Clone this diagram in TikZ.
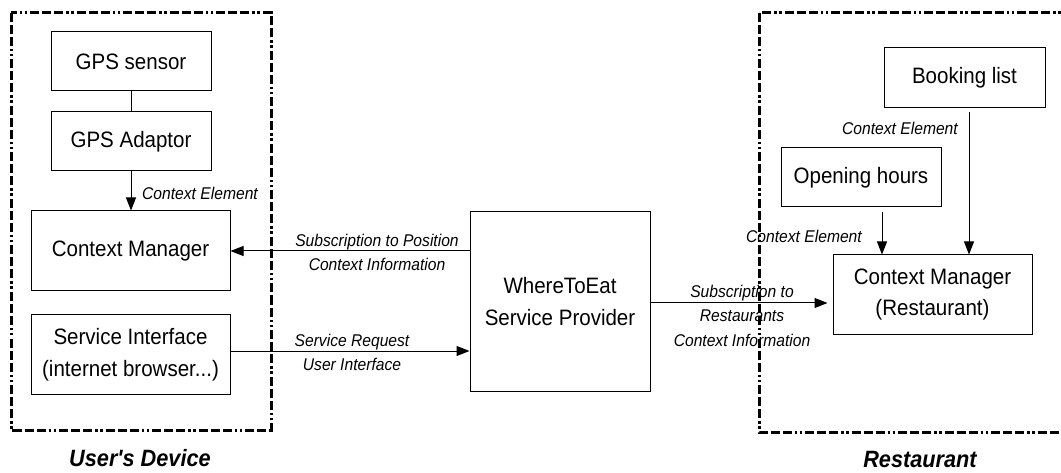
\documentclass[tikz,border=0pt]{standalone}
\usepackage{fontspec}
\setmainfont{Liberation Sans}[FakeStretch=0.92]
\newfontfamily\capfont{Liberation Sans}[FakeStretch=0.92, Ligatures=TeXOff]
\usetikzlibrary{arrows.meta}
\tikzset{
  box/.style={draw, line width=1pt, inner sep=0pt, align=center,
    font=\fontsize{22.3}{31.5}\selectfont},
  lbl/.style={inner sep=0pt, align=center,
    font=\fontsize{17}{24.5}\selectfont\itshape},
  grp/.style={inner sep=0pt, font=\capfont\fontsize{23.6}{26}\selectfont\bfseries\itshape},
  zone/.style={line width=3pt,
    dash pattern=on 9pt off 3pt on 9pt off 3pt on 9pt off 3pt on 2.5pt off 2.5pt on 2.5pt off 3pt},
  link/.style={line width=1pt},
  arr/.style={line width=1pt, -{Triangle[length=13pt,width=10pt]}}
}
\begin{document}
\begin{tikzpicture}[x=1pt,y=-1pt]
\clip (0,0) rectangle (1061,473);
\fill[white] (0,0) rectangle (1061,473);

% device and restaurant zones
\draw[zone] (11,13) rectangle (271,430);
\draw[zone] (759,13) rectangle (1090,432);

% user's device
\node[box, minimum width=160pt, minimum height=59pt] (gps) at (131,61.5) {GPS sensor};
\node[box, minimum width=160pt, minimum height=59pt] (gpsad) at (131,141.5) {GPS Adaptor};
\node[box, minimum width=199pt, minimum height=80pt] (cm) at (130.5,251) {Context Manager};
\node[box, minimum width=199pt, minimum height=79pt] (si) at (130.5,354.5) {Service Interface\\(internet browser...)};

% provider
\node[box, minimum width=180pt, minimum height=179pt] (prov) at (560,301.5) {WhereToEat\\Service Provider};

% restaurant
\node[box, minimum width=161pt, minimum height=60pt] (book) at (964.5,78) {Booking list};
\node[box, minimum width=160pt, minimum height=59pt] (open) at (861,177.5) {Opening hours};
\node[box, minimum width=199pt, minimum height=79pt] (cmr) at (932.5,294.5) {Context Manager\\(Restaurant)};

% connectors
\draw[link] (gps.south) -- (gpsad.north);
\draw[arr] (gpsad.south) -- (gpsad.south |- cm.north);
\draw[arr] (prov.west |- cm.east) -- (cm.east);
\draw[arr] ([yshift=3.5pt]si.east) -- ([yshift=3.5pt]si.east -| prov.west);
\draw[arr, shorten >=5pt] ([yshift=-1.5pt]prov.east) -- ([yshift=-1.5pt]prov.east -| cmr.west);
\draw[arr, shorten <=5pt] ([xshift=21pt]open.south) -- ([xshift=21pt]open.south |- cmr.north);
\draw[arr, shorten <=4pt] ([xshift=4.5pt]book.south) -- ([xshift=4.5pt]book.south |- cmr.north);

% connector labels
\node[lbl, anchor=west] (ce1) at (142,193) {Context Element};
\node[lbl] (subpos) at (377,252.5) {Subscription to Position\\Context Information};
\node[lbl] (sreq) at (352,352.5) {Service Request\\User Interface};
\node[lbl] (subrest) at (742,315.5) {Subscription to\\Restaurants\\Context Information};
\node[lbl, anchor=east] (ce2) at (958,128) {Context Element};
\node[lbl, anchor=east] (ce3) at (862,236) {Context Element};

% zone captions
\node[grp] (devcap) at (140,458.5) {User's Device};
\node[grp] (restcap) at (920,459) {Restaurant};
\end{tikzpicture}
\end{document}
